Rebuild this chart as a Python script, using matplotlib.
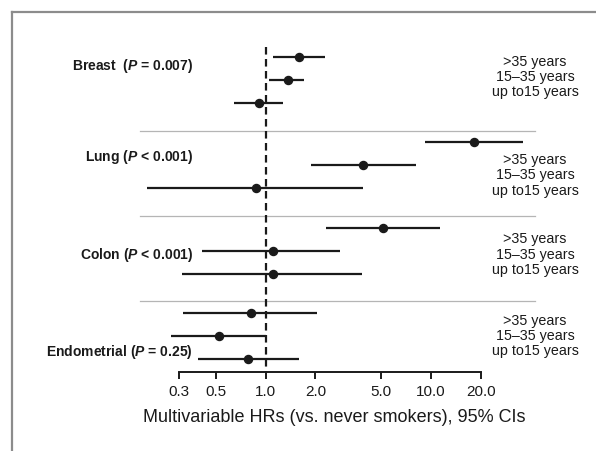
import numpy as np
import matplotlib
matplotlib.use('Agg')
import matplotlib.pyplot as plt
from matplotlib.lines import Line2D
import matplotlib.transforms as mtransforms

plt.rcParams['font.family'] = ['Liberation Sans', 'DejaVu Sans']
plt.rcParams['mathtext.fontset'] = 'custom'
plt.rcParams['mathtext.rm'] = 'Liberation Sans'
plt.rcParams['mathtext.bf'] = 'Liberation Sans:bold'
plt.rcParams['mathtext.bfit'] = 'Liberation Sans:italic:bold'

# data (HR, lower CI, upper CI) per site, rows: >35, 15-35, up to 15 years
sites = ['Breast', 'Lung', 'Colon', 'Endometrial']
p_labels = [r'Breast  ($\bfit{P}$ = 0.007)', r'Lung ($\bfit{P}$ < 0.001)',
            r'Colon ($\bfit{P}$ < 0.001)', r'Endometrial ($\bfit{P}$ = 0.25)']
age_labels = ['>35 years', '15\u201335 years', 'up to15 years']
hr = [[1.59, 1.36, 0.91],
      [18.2, 3.86, 0.87],
      [5.15, 1.10, 1.10],
      [0.81, 0.52, 0.785]]
lo = [[1.11, 1.05, 0.64],
      [9.2, 1.87, 0.192],
      [2.31, 0.41, 0.31],
      [0.318, 0.266, 0.388]]
hi = [[2.28, 1.71, 1.28],
      [36.2, 8.08, 3.86],
      [11.3, 2.81, 3.81],
      [2.03, 1.00, 1.60]]
xticks = [0.3, 0.5, 1.0, 2.0, 5.0, 10.0, 20.0]

# layout (row units, top down)
group_step = 3.71
site_label_y = [0.35, 0.61, 1.13, 1.65]
age_label_y = [0.83, 1.39, 1.13, 0.96]

fig = plt.figure(figsize=(5.96, 4.52), dpi=100)
ax = fig.add_axes([0, 0, 1, 1])
ax.set_xscale('log')
ax.set_xlim(10 ** (-265.7 / 165.3), 10 ** ((596 - 265.7) / 165.3))
ax.set_ylim((452 - 58) / 23, -58 / 23)
blend = mtransforms.blended_transform_factory(ax.transAxes, ax.transData)

col = '#1a1a1a'
for g in range(len(sites)):
    top = g * group_step
    for r in range(3):
        y = top + r
        ax.plot([lo[g][r], hi[g][r]], [y, y], color=col, lw=1.6, solid_capstyle='butt')
        ax.plot(hr[g][r], y, 'o', color=col, ms=5.8)
    if g > 0:
        ax.plot([0.1737, 42.6], [top - 0.5, top - 0.5], color='#b5b5b5', lw=0.9)
    ax.text(193 / 596, top + site_label_y[g], p_labels[g], transform=blend,
            ha='right', va='center', fontsize=10, fontweight='bold', color=col)
    ax.text(535 / 596, top + age_label_y[g], '\n'.join(age_labels), transform=blend,
            ha='center', va='center', fontsize=10.3, color=col, linespacing=1.12)

axis_y = (373 - 58) / 23
ax.plot([1, 1], [(48 - 58) / 23, axis_y], color=col, lw=1.6, ls=(0, (3.4, 2.0)))

for s in ['top', 'right', 'left']:
    ax.spines[s].set_visible(False)
ax.spines['bottom'].set_position(('data', axis_y))
ax.spines['bottom'].set_bounds(xticks[0], xticks[-1])
ax.spines['bottom'].set_linewidth(1.4)
ax.spines['bottom'].set_color(col)
ax.set_xticks(xticks)
ax.set_xticklabels(['%.1f' % v for v in xticks], fontsize=11, color=col)
ax.xaxis.set_minor_locator(matplotlib.ticker.NullLocator())
ax.tick_params(axis='x', direction='out', length=5, width=1.4, pad=4, color=col)
ax.set_yticks([])
ax.text((141.7 + 526.7) / 2 / 596, 1 - 417 / 452,
        'Multivariable HRs (vs. never smokers), 95% CIs',
        transform=ax.transAxes, ha='center', va='center', fontsize=13, color=col)
ax.patch.set_visible(False)

# grey frame on left and top
fig.add_artist(Line2D([11.5 / 596, 11.5 / 596], [0, 1 - 13 / 452], color='#8c8c8c', lw=1.6))
fig.add_artist(Line2D([11.5 / 596, 1], [1 - 13 / 452, 1 - 13 / 452], color='#8c8c8c', lw=1.6))

fig.savefig('out.png', dpi=100)
